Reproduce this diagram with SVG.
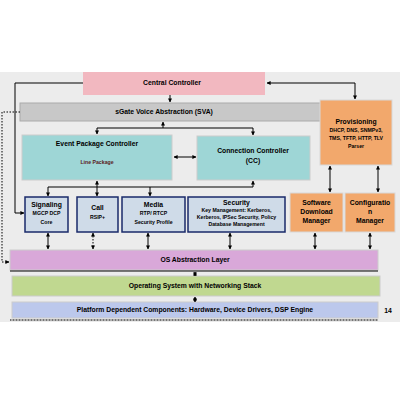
<svg xmlns="http://www.w3.org/2000/svg" width="400" height="400" viewBox="0 0 400 400">
<defs>
<marker id="ah" viewBox="0 0 10 10" refX="9" refY="5" markerWidth="4" markerHeight="4" orient="auto-start-reverse"><path d="M0,0L10,5L0,10z" fill="#000"/></marker>
<style>
text{font-family:"Liberation Sans",Arial,sans-serif;font-weight:bold;fill:#000;text-anchor:middle}
.t{font-size:6.8px}
.s{font-size:5.2px}
.ln{stroke:#000;stroke-width:1;fill:none}
.dl{stroke:#000;stroke-width:1;fill:none;stroke-dasharray:1.5,1.5}
.blue{fill:#cfdbe8;stroke:#1a2a6a;stroke-width:1.5}
.org{fill:#f2a86c;stroke:#d8d8d8;stroke-width:1}
.cyan{fill:#9ed6d6;stroke:#cccccc;stroke-width:1}
</style>
</defs>
<rect x="0" y="72" width="400" height="250" fill="#ececec"/>
<g id="central"><rect x="83" y="72" width="182" height="23" fill="#f2b8c0"/><text class="t" x="172" y="85">Central Controller</text></g>
<g id="sva"><rect x="20" y="103" width="305" height="18" fill="#c8c8c8" stroke="#aaaaaa"/><text class="t" x="164" y="114">sGate Voice Abstraction (SVA)</text></g>
<g id="prov"><rect x="320" y="100" width="72" height="65" class="org"/><text class="t" x="356" y="124">Provisioning</text><text class="s" x="356" y="132">DHCP, DNS, SNMPv3,</text><text class="s" x="356" y="140">TMS, TFTP, HTTP, TLV</text><text class="s" x="356" y="148">Parser</text></g>
<g id="epc"><rect x="22" y="135" width="150" height="45" class="cyan"/><text class="t" x="97" y="146">Event Package Controller</text><text class="s" x="97" y="164" style="fill:#5a2020">Line Package</text></g>
<g id="cc"><rect x="197" y="136" width="113" height="44" class="cyan"/><text class="t" x="253" y="153">Connection Controller</text><text class="t" x="253" y="163">(CC)</text></g>
<g id="sig"><rect x="25" y="197" width="43" height="35" class="blue"/><text class="t" x="46.5" y="207">Signaling</text><text class="s" x="46.5" y="215">MGCP DCP</text><text class="s" x="46.5" y="224">Core</text></g>
<g id="call"><rect x="77" y="197" width="41" height="35" class="blue"/><text class="t" x="97.5" y="210">Call</text><text class="s" x="97.5" y="219">RSIP+</text></g>
<g id="media"><rect x="122" y="197" width="63" height="35" class="blue"/><text class="t" x="153.5" y="207">Media</text><text class="s" x="153.5" y="215">RTP/ RTCP</text><text class="s" x="153.5" y="224">Security Profile</text></g>
<g id="sec"><rect x="188" y="197" width="97" height="35" class="blue"/><text class="t" x="236.5" y="205">Security</text><text class="s" x="236.5" y="212">Key Management: Kerberos,</text><text class="s" x="236.5" y="219">Kerberos, IPSec Security, Policy</text><text class="s" x="236.5" y="226">Database Management</text></g>
<g id="sdm"><rect x="290" y="193" width="53" height="39" class="org"/><text class="t" x="316.5" y="205">Software</text><text class="t" x="316.5" y="214">Download</text><text class="t" x="316.5" y="223">Manager</text></g>
<g id="cm"><rect x="345" y="193" width="50" height="39" class="org"/><text class="t" x="370" y="205">Configuratio</text><text class="t" x="370" y="214">n</text><text class="t" x="370" y="223">Manager</text></g>
<g id="osal"><rect x="10" y="250" width="368" height="20" fill="#d9a8d9" stroke="#cccccc"/><line x1="10" y1="271" x2="378" y2="271" stroke="#000"/><text class="t" x="195" y="262">OS Abstraction Layer</text></g>
<g id="os"><rect x="12" y="276" width="368" height="20" fill="#c0d890" stroke="#cccccc"/><text class="t" x="195" y="288">Operating System with Networking Stack</text></g>
<g id="plat"><rect x="12" y="302" width="366" height="16" fill="#bcc8ec" stroke="#cccccc"/><line x1="10" y1="320" x2="378" y2="320" stroke="#000" stroke-dasharray="1,0.5"/><text class="t" x="195" y="312">Platform Dependent Components: Hardware, Device Drivers, DSP Engine</text></g>
<text class="t" x="388" y="313">14</text>
<g id="connectors">
<path class="ln" d="M83,83H15V213H24" marker-end="url(#ah)"/>
<path class="dl" d="M20,112H2V262H9" marker-end="url(#ah)"/>
<path class="ln" d="M170,95V102" marker-end="url(#ah)"/>
<path class="ln" d="M267,83H355V99" marker-start="url(#ah)" marker-end="url(#ah)"/>
<path class="ln" d="M163,122V128" marker-start="url(#ah)"/>
<path class="ln" d="M97,134V128H253V135" marker-start="url(#ah)" marker-end="url(#ah)"/>
<path class="ln" d="M174,157H196" marker-start="url(#ah)" marker-end="url(#ah)"/>
<path class="ln" d="M97,181V187" marker-start="url(#ah)"/>
<path class="ln" d="M48,196V187H253V181" marker-start="url(#ah)" marker-end="url(#ah)"/>
<path class="ln" d="M150,187V196" marker-end="url(#ah)"/>
<path class="ln" d="M97,187V196" marker-end="url(#ah)"/>
<path class="ln" d="M330,166V192" marker-start="url(#ah)" marker-end="url(#ah)"/>
<path class="ln" d="M378,166V192" marker-start="url(#ah)" marker-end="url(#ah)"/>
<path class="ln" d="M48,233V249" marker-start="url(#ah)" marker-end="url(#ah)"/>
<path class="dl" d="M93,233V249" marker-start="url(#ah)" marker-end="url(#ah)"/>
<path class="ln" d="M148,233V249" marker-start="url(#ah)" marker-end="url(#ah)"/>
<path class="ln" d="M230,233V249" marker-start="url(#ah)" marker-end="url(#ah)"/>
<path class="ln" d="M315,233V249" marker-start="url(#ah)" marker-end="url(#ah)"/>
<path class="ln" d="M370,233V249" marker-start="url(#ah)" marker-end="url(#ah)"/>
<path class="ln" d="M195,272V276" marker-start="url(#ah)" marker-end="url(#ah)"/>
<path class="ln" d="M195,297V302" marker-start="url(#ah)" marker-end="url(#ah)"/>
</g>
</svg>
